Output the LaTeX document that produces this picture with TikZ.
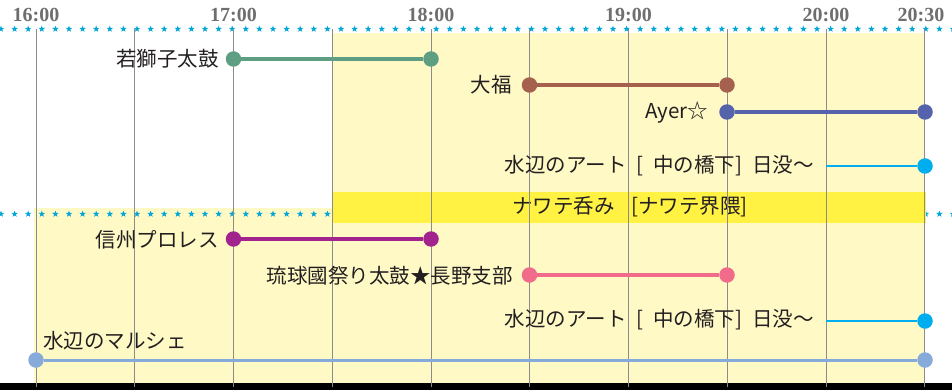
\documentclass[tikz,border=0pt]{standalone}
\usepackage{fontspec}
\setmainfont{Liberation Serif}
\newfontfamily\jpfont{Noto Sans CJK JP}
\usetikzlibrary{calc}
\definecolor{bgyellow}{HTML}{FFF9C6}
\definecolor{bandyellow}{HTML}{FFF243}
\definecolor{starc}{HTML}{00A6D6}
\definecolor{gridc}{HTML}{8C8C8C}
\definecolor{timec}{HTML}{6E6E6E}
\definecolor{greenc}{HTML}{5E9E82}
\definecolor{brownc}{HTML}{A5604E}
\definecolor{ayerc}{HTML}{5463AB}
\definecolor{cyanc}{HTML}{00AEEF}
\definecolor{magc}{HTML}{A3238E}
\definecolor{pinkc}{HTML}{F06C8A}
\definecolor{lbluec}{HTML}{86ABDB}
\definecolor{textc}{HTML}{231F20}
\tikzset{
  gridline/.style={draw=gridc, line width=1pt},
  timelbl/.style={font=\fontsize{20}{24}\selectfont\bfseries, text=timec, inner sep=0pt},
  lbl/.style={font=\jpfont\fontsize{20.5}{24}\selectfont, text=textc, inner sep=0pt},
  evdot/.style={circle, fill=#1, draw=none, minimum size=15.5pt, inner sep=0pt},
  evline/.style={draw=#1, line width=3.5pt},
  thinline/.style={draw=#1, line width=2.5pt},
}
\newcommand{\starrow}[1]{%
  \foreach \i in {0,...,70} {
    \fill[starc] (1+13.6*\i,#1) +(-90:3.4) -- +(-54:1.4) -- +(-18:3.4) -- +(18:1.4) -- +(54:3.4) -- +(90:1.4) -- +(126:3.4) -- +(162:1.4) -- +(198:3.4) -- +(234:1.4) -- cycle;
  }%
}
\begin{document}
\begin{tikzpicture}[x=1pt,y=-1pt]
\useasboundingbox (0,0) rectangle (952,390);
\fill[white] (0,0) rectangle (952,390);
% backgrounds
\fill[bgyellow] (332,33) rectangle (925,208);
\fill[bgyellow] (34,208) rectangle (925,383);
% star lines
\starrow{29}
\starrow{214}
% band
\fill[bandyellow] (332,192) rectangle (926,223);
\node[lbl] (nawate) at (630,207) {ナワテ呑み\hspace{0.8em}[ナワテ界隈]};
% bottom bar
\fill[black] (0,383) rectangle (952,390);
% grid lines
\foreach \i in {0,...,9} {
  \draw[gridline] (36+98.75*\i,29) -- (36+98.75*\i,387);
}
% time labels
\node[timelbl, anchor=base] (t16) at (36,22) {16:00};
\node[timelbl, anchor=base] (t17) at (233.5,22) {17:00};
\node[timelbl, anchor=base] (t18) at (431,22) {18:00};
\node[timelbl, anchor=base] (t19) at (628.5,22) {19:00};
\node[timelbl, anchor=base] (t20) at (826,22) {20:00};
\node[timelbl, anchor=base] (t2030) at (921,22) {20:30};
% row 1
\node[evdot=greenc] (a1) at (233.5,59) {};
\node[evdot=greenc] (a2) at (431,59) {};
\draw[evline=greenc] (a1) -- (a2);
\node[lbl, anchor=east] (al) at (219,59) {若獅子太鼓};
% row 2
\node[evdot=brownc] (b1) at (529.5,85) {};
\node[evdot=brownc] (b2) at (727,85) {};
\draw[evline=brownc] (b1) -- (b2);
\node[lbl, anchor=east] (bl) at (512,85) {大福};
% row 3
\node[evdot=ayerc] (c1) at (727,112) {};
\node[evdot=ayerc] (c2) at (925,112) {};
\draw[evline=ayerc] (c1) -- (c2);
\node[lbl, anchor=east] (cl) at (708,112) {Ayer☆};
% row 4
\coordinate (d1) at (826,166);
\node[evdot=cyanc] (d2) at (925,166) {};
\draw[thinline=cyanc] (d1) -- (d2);
\node[lbl, anchor=east] (dl) at (814,166) {水辺のアート\hspace{0.5em}[\hspace{0.45em}中の橋下]\hspace{0.5em}日没〜};
% row 6
\node[evdot=magc] (e1) at (233.5,239) {};
\node[evdot=magc] (e2) at (431,239) {};
\draw[evline=magc] (e1) -- (e2);
\node[lbl, anchor=east] (el) at (219,240) {信州プロレス};
% row 7
\node[evdot=pinkc] (f1) at (529.5,275) {};
\node[evdot=pinkc] (f2) at (727,275) {};
\draw[evline=pinkc] (f1) -- (f2);
\node[lbl, anchor=east] (fl) at (513,276) {琉球國祭り太鼓★長野支部};
% row 8
\coordinate (g1) at (826,321);
\node[evdot=cyanc] (g2) at (925,321) {};
\draw[thinline=cyanc] (g1) -- (g2);
\node[lbl, anchor=east] (gl) at (814,320) {水辺のアート\hspace{0.5em}[\hspace{0.45em}中の橋下]\hspace{0.5em}日没〜};
% row 9
\node[evdot=lbluec] (h1) at (36,360) {};
\node[evdot=lbluec] (h2) at (925,360) {};
\draw[line width=3pt, draw=lbluec] (h1) -- (h2);
\node[lbl, anchor=west] (hl) at (43,341) {水辺のマルシェ};
\end{tikzpicture}
\end{document}
